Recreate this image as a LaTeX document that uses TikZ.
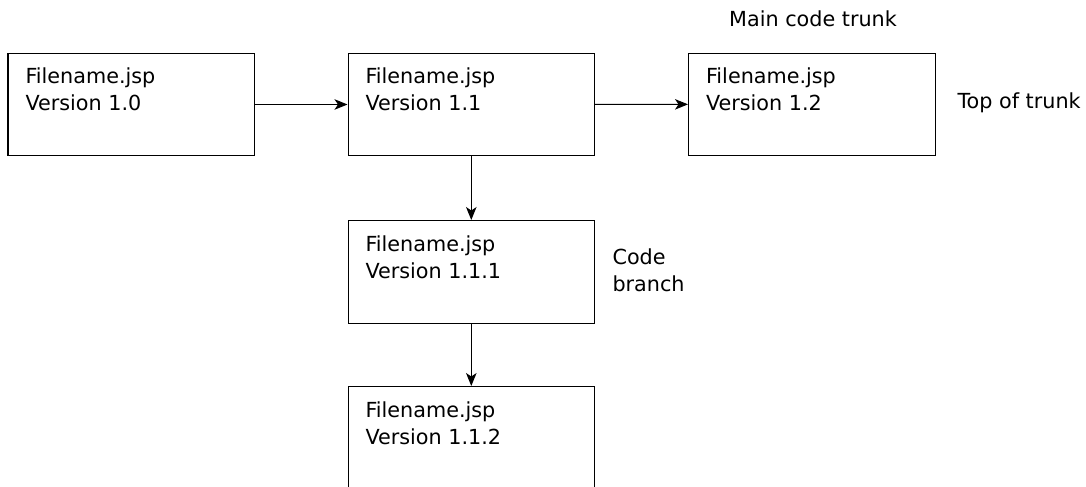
\documentclass[tikz,border=0pt]{standalone}
\usepackage{fontspec}
\setmainfont{DejaVu Sans}
\usetikzlibrary{arrows.meta}

\tikzset{
  version/.style={draw, minimum width=4.93cm, minimum height=2.05cm, inner sep=0pt, anchor=north west},
  vtext/.style={anchor=north west, align=left, inner xsep=0.35cm, inner ysep=0.3cm},
  note/.style={inner sep=0pt, align=left},
}

\begin{document}
\begin{tikzpicture}[>={Stealth[length=0.26cm,width=0.21cm,inset=0.07cm]}, font=\fontsize{11.8}{15.2}\selectfont, line width=0.6pt]
\useasboundingbox (0,0) rectangle (21.72,-9.72);
% main trunk
\node[version, label={[vtext, name=v10txt]north west:{Filename.jsp\\Version 1.0}}] (v10) at (0.15,-1.054) {};
\node[version, label={[vtext, name=v11txt]north west:{Filename.jsp\\Version 1.1}}] (v11) at (6.95,-1.054) {};
\node[version, label={[vtext, name=v12txt]north west:{Filename.jsp\\Version 1.2}}] (v12) at (13.76,-1.05) {};
% branch
\node[version, label={[vtext, name=v111txt]north west:{Filename.jsp\\Version 1.1.1}}] (v111) at (6.95,-4.4) {};
\node[version, label={[vtext, name=v112txt]north west:{Filename.jsp\\Version 1.1.2}}] (v112) at (6.95,-7.72) {};

\node[note] (trunk) at (16.26,-0.376) {Main code trunk};
\node[note, anchor=base west] (top) at (19.14,-2.166) {Top of trunk};
\node[note, anchor=west] (branch) at (12.24,-5.4) {Code\\branch};

\draw[->] (v10) -- (v11);
\draw[->] (v11) -- (v12);
\draw[->] (v11) -- (v111);
\draw[->] (v111) -- (v112);
\end{tikzpicture}
\end{document}
